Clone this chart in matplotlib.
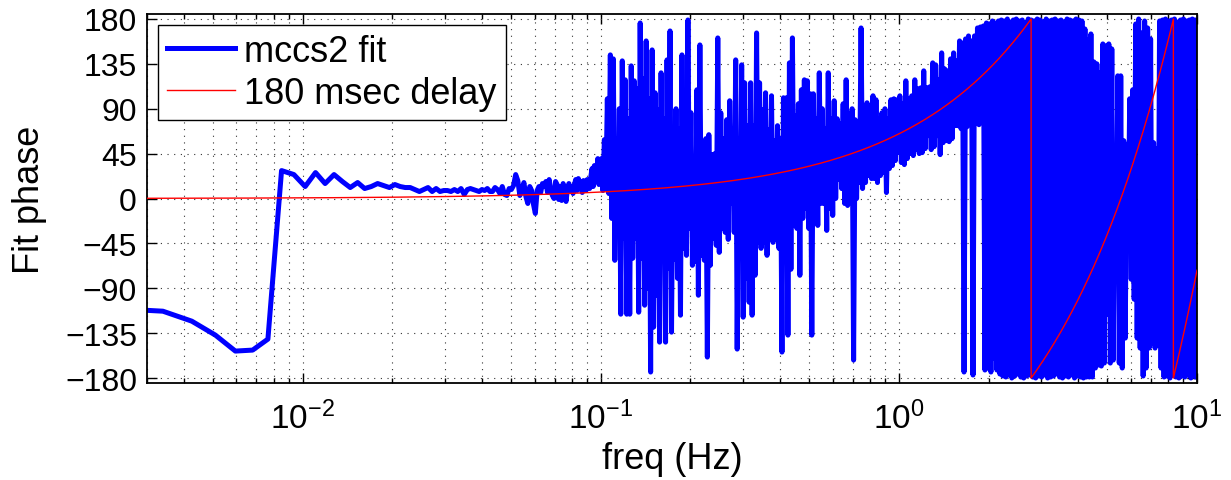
import numpy as np
import matplotlib
matplotlib.use("Agg")
import matplotlib.pyplot as plt
from matplotlib.ticker import FixedLocator, LogLocator, NullFormatter

plt.rcParams['font.family'] = ['Liberation Sans', 'DejaVu Sans']
plt.rcParams['mathtext.fontset'] = 'custom'
plt.rcParams['mathtext.rm'] = 'Liberation Sans'
plt.rcParams['mathtext.it'] = 'Liberation Sans'
plt.rcParams['mathtext.bf'] = 'Liberation Sans'

# ---------------- data ----------------
freq_step = 0.00085          # FFT bin spacing (Hz)
delay_sec = 0.18             # 180 msec delay model
f_max = 10.0

# low-frequency fit phase, bins k = 3 .. 117
lf_first_bin = 3
lf_phase = [-111, -113, -123, -137, -153, -152, -141,
            28, 24, 12, 26, 15, 24, 17, 11, 16, 10, 12, 15, 13, 11, 14, 12, 11, 11,
            9, 7, 9, 11, 7, 10, 7, 8,
            8, 7, 9, 7, 10, 4, 9, 10, 9, 8, 7, 9, 8, 10, 7, 7, 11, 9, 5, 12, 4, 3,
            10, 9, 13, 24, 18, 3, 8, 16, 2, -5, 12, 8, -6, -15, 8, 12, 6, 15, 12,
            17, 6, 19, 8, 3, 0, 17, 14, -1, 12, -2, 15, 6, -3, 10, 15, 8, 12, 5,
            14, 19, 8, 20, 10, 17, 6, 18, 12, 8, 19, 14, 10, 22, 30, 12, 33, 20,
            25, 40, 14, 38]

# high-frequency (0.1 - 10 Hz) fit phase: successive swing peaks / troughs
hf_f_start = 0.1005
hf_f_end = 9.99
hf_upper = [40, 59, 100, 144, 140, 60, 90, 138, 119, 80,
            133, 118, 110, 176, 120, 158, 100, 149, 106, 89,
            126, 80, 139, 168, 60, 90, 70, 144, 50, 179,
            86, 40, 109, 154, 40, 60, 64, 44, 45, 161,
            86, 60, 79, 98, 70, 139, 60, 134, 116, 73,
            116, 73, 166, 116, 89, 106, 69, 103, 58, 73,
            60, 101, 101, 136, 161, 83, 95, 109, 119, 118,
            105, 105, 80, 126, 90, 70, 126, 80, 98, 80,
            75, 95, 119, 85, 90, 79, 75, 171, 76, 96,
            90, 103, 99, 80, 86, 90, 80, 99, 100, 99,
            103, 95, 118, 100, 103, 119, 110, 111, 128, 111,
            112, 136, 134, 119, 146, 130, 128, 140, 146, 138,
            158, 156, 160, 163, 158, 163, 171, 172, 173, 176,
            175, 178, 176, 178,
            179, 178, 180, 177, 179, 180, 178, 179, 176, 180, 179, 178, 180, 179,
            177, 180, 178, 179, 180, 178, 179, 177, 180, 179, 178, 180, 179, 178,
            170, 159, 165, 137, 135, 126, 155, 153, 155, 150,
            46, 123, 123, 58, 54, 100, 109, 175, 180, 166,
            178, 171, 160, 56, 50, 178,
            179, 180, 178, 179, 180, 177, 179, 180, 178, 179, 180, 179]
hf_lower = [8, 10, 5, -20, -62, -30, -116, -40, -116, -116,
            -60, -40, -114, -60, -107, -90, -174, -129, -97, -144,
            -60, -144, -70, -134, -61, -80, -117, -50, -57, -30,
            -67, -63, -97, -57, -62, -159, -67, -40, -47, -54,
            -30, -34, -41, -5, -34, -151, -60, -119, -80, -104,
            -117, -77, -44, -50, -44, -57, -40, -44, -40, -50,
            -154, -60, -137, -71, -27, -30, -77, -20, -10, -30,
            -137, -5, -27, -5, -5, -32, -10, -17, 0, 19,
            10, -5, -7, 6, -162, 0, 16, 10, 16, 23,
            20, 20, 16, 23, 26, 6, 30, 33, 38, 46,
            36, 34, 40, 45, 43, 49, 45, 46, 50, 63,
            49, 52, 63, 44, 56, 58, 57, 60, 73, 73,
            70, -174, 72, 75, -177, 76, 74, 86, -172, -170,
            -174, -160, -172, -176,
            -178, -179, -177, -180, -178, -176, -179, -180, -178, -177, -179, -180, -178, -179,
            -177, -180, -179, -178, -176, -179, -180, -178, -179, -177, -180, -178, -179, -180,
            -179, -179, -179, -170, -167, -168, -165, -116, -165, -162,
            -76, -165, -170, -140, -37, -81, -101, -140, -150, -178,
            -170, -150, -145, -150, -147, -170,
            -179, -178, -180, -177, -179, -180, -178, -179, -177, -180, -178, -179]

y_ticks = [-180, -135, -90, -45, 0, 45, 90, 135, 180]
legend_labels = ["mccs2 fit", "180 msec delay"]

# ---------------- build series ----------------
lf_freq = freq_step * np.arange(lf_first_bin, lf_first_bin + len(lf_phase))
hf_freq = np.geomspace(hf_f_start, hf_f_end, 2 * len(hf_upper))
hf_phase = np.empty(2 * len(hf_upper))
hf_phase[0::2] = hf_upper
hf_phase[1::2] = hf_lower
fit_freq = np.concatenate([lf_freq, hf_freq])
fit_phase = np.concatenate([np.array(lf_phase, float), hf_phase])

model_freq = freq_step * np.arange(lf_first_bin, int(f_max / freq_step) + 2)
model_phase = np.degrees(np.angle(np.exp(1j * 2 * np.pi * model_freq * delay_sec)))

# ---------------- plot ----------------
W, H = 1231, 481
fig = plt.figure(figsize=(W / 100, H / 100), dpi=100)
ax = fig.add_axes([146.7 / W, (H - 384) / H, (1197 - 146.7) / W, (384 - 15) / H])

ax.semilogx(fit_freq, fit_phase, color='#0000FF', lw=3.6, label=legend_labels[0],
            solid_joinstyle='round', zorder=2)
ax.semilogx(model_freq, model_phase, color='#FF0000', lw=1.0, label=legend_labels[1],
            zorder=3)

ax.set_xlim(0.003, 10)
ax.set_ylim(-185, 185)
ax.yaxis.set_major_locator(FixedLocator(y_ticks))
ax.xaxis.set_major_locator(LogLocator(base=10, numticks=10))
ax.xaxis.set_minor_locator(LogLocator(base=10, subs=np.arange(2, 10), numticks=20))
ax.xaxis.set_minor_formatter(NullFormatter())

ax.grid(True, which='major', color='#333333', linestyle=(0, (1, 5)), lw=0.8)
ax.grid(True, which='minor', axis='x', color='#333333', linestyle=(0, (1, 5)), lw=0.8)

ax.tick_params(which='both', direction='in', top=True, right=True, width=1.0)
ax.tick_params(which='major', length=7, labelsize=23)
ax.tick_params(axis='y', which='major', pad=7)
ax.tick_params(axis='x', which='major', pad=13, labelsize=24)
ax.tick_params(which='minor', length=3.5)
for s in ax.spines.values():
    s.set_linewidth(1.3)

ax.set_xlabel("freq (Hz)", fontsize=26, labelpad=4)
ax.set_ylabel("Fit phase", fontsize=26, labelpad=13)

leg = ax.legend(loc='upper left', bbox_to_anchor=(0.0, 1.0), fontsize=26,
                frameon=True, fancybox=False, shadow=False, framealpha=1,
                edgecolor='black', borderaxespad=0.3, borderpad=0.25,
                handlelength=1.9, handletextpad=0.25, labelspacing=0.2)
leg.get_frame().set_linewidth(1.0)

fig.savefig("out.png", dpi=100)
